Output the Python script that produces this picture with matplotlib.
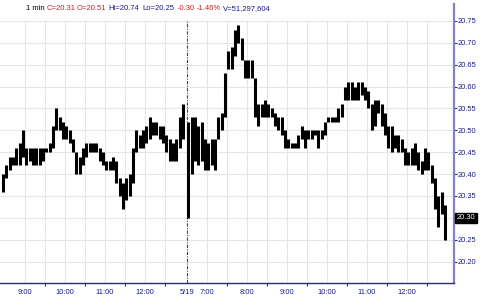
import matplotlib
matplotlib.use("Agg")
import matplotlib.pyplot as plt
import matplotlib.transforms as mtransforms

# ---------------- data (5-minute high/low) ----------------
day1_high = [20.40, 20.42, 20.44, 20.44, 20.46, 20.47, 20.50, 20.46, 20.46, 20.46,
             20.46, 20.46, 20.46, 20.46, 20.47, 20.51, 20.55, 20.53, 20.52, 20.51,
             20.50, 20.48, 20.45, 20.44, 20.46, 20.47, 20.47, 20.47, 20.47, 20.46,
             20.45, 20.43, 20.43, 20.44, 20.43, 20.39, 20.38, 20.39, 20.40, 20.46,
             20.50, 20.49, 20.50, 20.51, 20.53, 20.52, 20.52, 20.51, 20.51, 20.49,
             20.48, 20.47, 20.48, 20.53, 20.56]
day1_low = [20.36, 20.39, 20.41, 20.42, 20.42, 20.42, 20.44, 20.42, 20.43, 20.42,
            20.42, 20.42, 20.43, 20.45, 20.45, 20.46, 20.50, 20.50, 20.48, 20.48,
            20.47, 20.45, 20.40, 20.40, 20.42, 20.44, 20.45, 20.45, 20.45, 20.43,
            20.42, 20.41, 20.41, 20.41, 20.38, 20.35, 20.32, 20.34, 20.35, 20.38,
            20.45, 20.46, 20.46, 20.47, 20.48, 20.49, 20.49, 20.48, 20.47, 20.45,
            20.43, 20.43, 20.43, 20.46, 20.48]
day2_high = [20.52, 20.53, 20.53, 20.51, 20.52, 20.48, 20.47, 20.48, 20.48, 20.53,
             20.54, 20.63, 20.68, 20.69, 20.73, 20.74, 20.71, 20.66, 20.66, 20.66,
             20.62, 20.56, 20.56, 20.57, 20.56, 20.55, 20.54, 20.53, 20.53, 20.50,
             20.48, 20.47, 20.47, 20.49, 20.51, 20.50, 20.50, 20.50, 20.50, 20.50,
             20.50, 20.52, 20.53, 20.53, 20.53, 20.55, 20.56, 20.60, 20.61, 20.61,
             20.60, 20.61, 20.61, 20.60, 20.59, 20.56, 20.57, 20.57, 20.56, 20.54,
             20.51, 20.51, 20.49, 20.49, 20.48, 20.46, 20.45, 20.46, 20.47, 20.45,
             20.43, 20.46, 20.45, 20.42, 20.39, 20.35, 20.36, 20.33]
day2_low = [20.30, 20.40, 20.43, 20.42, 20.43, 20.41, 20.41, 20.42, 20.41, 20.48,
            20.50, 20.53, 20.64, 20.64, 20.67, 20.70, 20.66, 20.62, 20.62, 20.62,
            20.53, 20.51, 20.53, 20.53, 20.53, 20.53, 20.51, 20.50, 20.49, 20.46,
            20.46, 20.46, 20.46, 20.46, 20.48, 20.46, 20.48, 20.48, 20.49, 20.46,
            20.48, 20.49, 20.52, 20.52, 20.52, 20.52, 20.53, 20.57, 20.57, 20.57,
            20.57, 20.57, 20.58, 20.57, 20.55, 20.50, 20.51, 20.54, 20.51, 20.49,
            20.46, 20.45, 20.46, 20.45, 20.45, 20.42, 20.42, 20.42, 20.42, 20.41,
            20.40, 20.41, 20.41, 20.38, 20.32, 20.28, 20.31, 20.25]
last_close = 20.30
y_ticks = [20.20, 20.25, 20.30, 20.35, 20.40, 20.45, 20.50, 20.55, 20.60, 20.65, 20.70, 20.75]
day1_hours = ["9:00", "10:00", "11:00", "12:00"]
day2_hours = ["7:00", "8:00", "9:00", "10:00", "11:00", "12:00"]
day2_label = "5/19"
header_parts = [("1 min", "black"), ("C=20.31", "#cc2020"), ("O=20.51", "#cc2020"),
                ("Hi=20.74", "#1a1a80"), ("Lo=20.25", "#1a1a80"), ("-0.30", "#cc2020"),
                ("-1.46%", "#cc2020"), ("V=51,297,604", "#1a1a80")]

# ---------------- time axis (minutes) ----------------
def hm(s):
    h, m = s.split(":")
    return int(h) * 60 + int(m)

D1_ORIGIN = hm("8:23")          # left edge of the chart
D1_FIRST_BAR = hm("8:25")
D2_OFFSET = 280                 # session break position
D2_ORIGIN = hm("6:30")
BAR = 5

def x1(t):
    return t - D1_ORIGIN

def x2(t):
    return D2_OFFSET + (t - D2_ORIGIN)

xs1 = [x1(D1_FIRST_BAR + BAR * k) + BAR / 2 for k in range(len(day1_high))]
xs2 = [x2(D2_ORIGIN + BAR * k) + BAR / 2 for k in range(len(day2_high))]

plt.rcParams['font.family'] = ['Liberation Sans', 'DejaVu Sans']
W, H = 480, 300
fig = plt.figure(figsize=(4.8, 3.0), dpi=100)
ax_left, ax_right, ax_top, ax_bot = 0, 454, 4, 283
ax = fig.add_axes([ax_left / W, 1 - ax_bot / H, (ax_right - ax_left) / W, (ax_bot - ax_top) / H])

px_per_min = 40 / 60.0
ax.set_xlim(0, (ax_right - ax_left) / px_per_min)
# price scale: 20.20 at y=261.7, 0.05 per 21.9 px
ppx = 0.05 / 21.9
ax.set_ylim(20.20 - (ax_bot - 261.7) * ppx, 20.20 + (261.7 - ax_top) * ppx)

grid_col = "#e6e6e6"
top_grid = y_ticks[-1]
for yv in y_ticks:
    ax.axhline(yv, color=grid_col, lw=0.8, zorder=0)

major_pos = [x1(hm(s)) for s in day1_hours] + [x2(hm(s)) for s in day2_hours]
minor_pos = [x1(hm(s) + 30) for s in day1_hours] + [x2(hm(s) + 30) for s in day2_hours]
ax.vlines(major_pos + minor_pos, ax.get_ylim()[0], top_grid, color=grid_col, lw=0.8, zorder=0)

# session break
ax.vlines([D2_OFFSET], ax.get_ylim()[0], top_grid, color="#3a3aa0", lw=0.8,
          linestyles=[(0, (3, 1.2, 1, 1.2))], zorder=1)

# price bars
ax.vlines(xs1, day1_low, day1_high, color="black", lw=2.2, zorder=3)
ax.vlines(xs2, day2_low, day2_high, color="black", lw=2.2, zorder=3)

# axes styling
for s in ["left", "top"]:
    ax.spines[s].set_visible(False)
ax.spines["right"].set_color("#8282c4")
ax.spines["right"].set_linewidth(1.6)
ax.spines["bottom"].set_color("#2c2c70")
ax.spines["bottom"].set_linewidth(1.0)

ax.yaxis.tick_right()
ax.set_yticks(y_ticks)
ax.set_yticklabels([f"{v:.2f}" for v in y_ticks])
ax.tick_params(axis="y", length=2, width=0.8, color="#2c2c70", pad=0.5,
               labelsize=5.4, labelcolor="#1a1a80")

ax.set_xticks([D2_OFFSET] + major_pos)
ax.set_xticklabels([day2_label] + day1_hours + day2_hours)
ax.set_xticks(minor_pos, minor=True)
ax.tick_params(axis="x", which="major", length=0, pad=4.5, labelsize=5.4, labelcolor="#1a1a80")
ax.tick_params(axis="x", which="minor", length=2.5, width=0.8, color="#2c2c70")

# last price box
trans = mtransforms.blended_transform_factory(ax.transAxes, ax.transData)
ax.text(1.006, last_close, f"{last_close:.2f}", transform=trans, ha="left", va="center",
        fontsize=5.4, color="white",
        bbox=dict(boxstyle="square,pad=0.25", fc="black", ec="black"), clip_on=False)

# header
header_x = [26, 47, 77, 108, 142, 178, 197, 223]
for (txt, col), xp in zip(header_parts, header_x):
    fig.text(xp / W, 1 - 9 / H, txt, color=col, fontsize=5.5, ha="left", va="center")

fig.savefig("out.png", dpi=100)
